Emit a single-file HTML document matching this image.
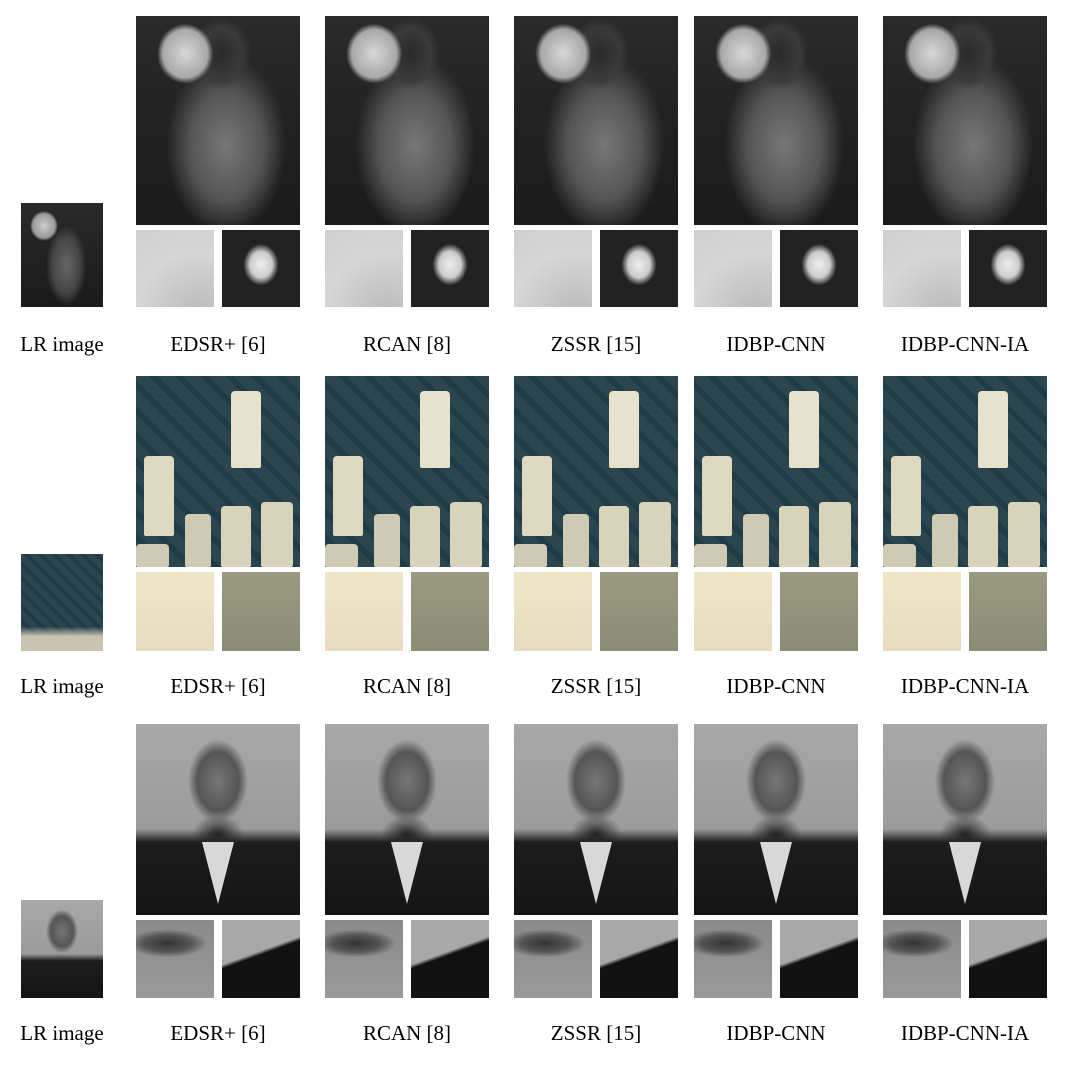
<!DOCTYPE html>
<html><head><meta charset="utf-8">
<style>
html,body{margin:0;padding:0;background:#fff;}
body{width:1078px;height:1068px;position:relative;overflow:hidden;font-family:"Liberation Serif",serif;}
.im{position:absolute;overflow:hidden;}
.sh{position:absolute;}
.lbl{position:absolute;font-size:21px;color:#000;text-align:center;width:190px;white-space:nowrap;}
</style></head>
<body>
<script>
const methods=["EDSR+ [6]","RCAN [8]","ZSSR [15]","IDBP-CNN","IDBP-CNN-IA"];
const colX=[136,325,514,694,883];
const rows=[
 {main:[16,209],crop:[230,77],lbl:344,lr:[203,104],
  mainBg:"radial-gradient(ellipse 28px 30px at 30% 18%,#d8d8d8,#a8a8a8 80%,transparent 100%),radial-gradient(ellipse 30px 36px at 52% 18%,#2a2a2a,#3a3a3a 70%,transparent 100%),radial-gradient(ellipse 60px 90px at 55% 62%,#777,#555 60%,transparent 100%),linear-gradient(#2a2a2a,#1a1a1a)",
  c1:"radial-gradient(circle at 80% 110%,#bbb,#d6d6d6 60%,#cfcfcf)",
  c2:"radial-gradient(ellipse 22px 26px at 50% 45%,#eee,#ccc 50%,#222 80%),linear-gradient(#111,#333)",
  lrBg:"radial-gradient(ellipse 14px 15px at 28% 22%,#ccc,#999 80%,transparent 100%),radial-gradient(ellipse 20px 40px at 55% 60%,#666,#444 70%,transparent 100%),linear-gradient(#2a2a2a,#1a1a1a)",
  shapes:[]},
 {main:[376,191],crop:[572,79],lbl:686,lr:[554,97],
  mainBg:"repeating-linear-gradient(45deg,#1e3c48 0 6px,#2c4650 6px 18px),linear-gradient(#3a4a50,#2a3a40)",
  c1:"linear-gradient(#efe6c8,#e8dcc0)",
  c2:"linear-gradient(#9a9a80,#8a8c74)",
  lrBg:"linear-gradient(0deg,#c8c4b0 0,#c8c4b0 15%,transparent 25%),repeating-linear-gradient(45deg,#1e3c48 0 4px,#2c4650 4px 10px)",
  shapes:[[58,8,18,40,"#e6e2cc"],[5,42,18,42,"#ddd8c0"],[52,68,18,32,"#d8d4bc"],[76,66,20,34,"#d8d4bc"],[30,72,16,28,"#cfcab4"],[0,88,20,12,"#cfcab4"]]},
 {main:[724,191],crop:[920,78],lbl:1033,lr:[900,98],
  mainBg:"radial-gradient(ellipse 30px 42px at 50% 30%,#777,#555 70%,transparent 100%),radial-gradient(ellipse 26px 20px at 50% 58%,#222,transparent 100%),linear-gradient(transparent 55%,#1c1c1c 62%,#151515),linear-gradient(#a8a8a8,#909090)",
  c1:"radial-gradient(ellipse 40px 14px at 40% 30%,#333,#555 60%,transparent 100%),linear-gradient(#8a8a8a,#9a9a9a)",
  c2:"linear-gradient(160deg,#a8a8a8 0 42%,#111 46%)",
  lrBg:"radial-gradient(ellipse 16px 22px at 50% 32%,#777,#555 70%,transparent 100%),linear-gradient(transparent 55%,#1c1c1c 62%,#151515),linear-gradient(#a8a8a8,#909090)",
  shapes:[["v"]]}
];
function box(x,y,w,h,bg){const d=document.createElement('div');d.className='im';d.style.left=x+'px';d.style.top=y+'px';d.style.width=w+'px';d.style.height=h+'px';d.style.background=bg;document.body.appendChild(d);return d;}
rows.forEach((r,ri)=>{
  const lr=box(21,r.lr[0],82,r.lr[1],r.lrBg);
  
  
  const l0=document.createElement('div');l0.className='lbl';l0.style.left=(62-95)+'px';l0.style.top=(r.lbl-12)+'px';l0.textContent='LR image';
  
  
  document.body.appendChild(l0);
  methods.forEach((m,mi)=>{
    const x=colX[mi];
    const mn=box(x,r.main[0],164,r.main[1],r.mainBg);
    
    
    r.shapes.forEach(s=>{
      const e=document.createElement('div');e.className='sh';
      if(s[0]==="v"){e.style.left='66px';e.style.top='118px';e.style.width='0';e.style.height='0';e.style.borderLeft='16px solid transparent';e.style.borderRight='16px solid transparent';e.style.borderTop='62px solid #d8d8d8';}
      else{e.style.left=s[0]+'%';e.style.top=s[1]+'%';e.style.width=s[2]+'%';e.style.height=s[3]+'%';e.style.background=s[4];e.style.borderRadius='4px 4px 2px 2px';}
      
      
      mn.appendChild(e);
    });
    const c1=box(x,r.crop[0],78,r.crop[1],r.c1);
    
    
    const c2=box(x+86,r.crop[0],78,r.crop[1],r.c2);
    
    
    const l=document.createElement('div');l.className='lbl';l.style.left=(x+82-95)+'px';l.style.top=(r.lbl-12)+'px';l.textContent=m;
    
    
    document.body.appendChild(l);
  });
});
</script>
</body></html>
